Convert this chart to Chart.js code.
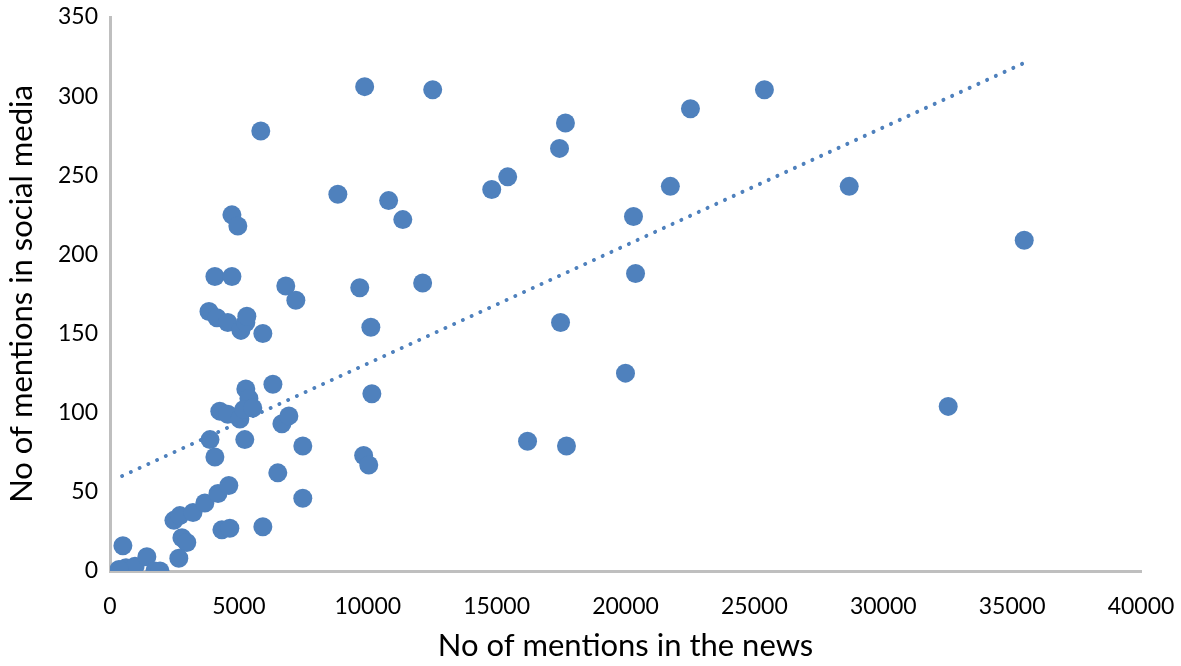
<!DOCTYPE html>
<html>
<head>
<meta charset="utf-8">
<script src="https://cdn.jsdelivr.net/npm/chart.js@4"></script>
<style>
  html, body { margin: 0; padding: 0; background: #fff; }
  #wrap { width: 1181px; height: 666px; }
</style>
</head>
<body>
<div id="wrap"><canvas id="scatterCanvas" width="1181" height="666"></canvas></div>
<script>
// mentions in the news (x) vs mentions in social media (y)
const newsMentions = [
  500, 470, 620, 780, 970, 350, 1430, 1740, 1940,
  2480, 2710, 2790, 2980, 2670, 3220, 3680, 4190, 4610, 4340, 4650, 5930,
  3880, 4070, 4260, 4570, 5040, 5230, 5270, 5390, 5190, 5540, 6320,
  6510, 6670, 6940, 7480, 7480,
  3840, 4150, 4570, 5080, 5270, 5310, 5930, 4070, 4730, 4730, 4960, 5850,
  6820, 7210, 8840, 9880, 9690, 10120, 9840, 10040, 10160, 10810, 11360,
  12130, 12520, 14810, 15430, 16200, 17440, 17670, 17480, 17710,
  20000, 20310, 20390, 21740, 22520, 25390, 28680, 32520, 35470
];
const socialMentions = [
  16, 0, 2, 1, 3, 1, 9, 0, 0,
  32, 35, 21, 18, 8, 37, 43, 49, 54, 26, 27, 28,
  83, 72, 101, 99, 96, 83, 115, 109, 102, 103, 118,
  62, 93, 98, 79, 46,
  164, 160, 157, 152, 157, 161, 150, 186, 186, 225, 218, 278,
  180, 171, 238, 306, 179, 154, 73, 67, 112, 234, 222,
  182, 304, 241, 249, 82, 267, 283, 157, 79,
  125, 224, 188, 243, 292, 304, 243, 104, 209
];

// dotted linear trend line, end points
const trendX = [470, 35470];
const trendY = [60, 321];

const xTicks = [0, 5000, 10000, 15000, 20000, 25000, 30000, 35000, 40000];
const yTicks = [0, 50, 100, 150, 200, 250, 300, 350];

const points = newsMentions.map((x, i) => ({ x: x, y: socialMentions[i] }));
const trend = trendX.map((x, i) => ({ x: x, y: trendY[i] }));

const blue = '#4F81BD';
const fontFamily = 'Lato, "Open Sans", sans-serif';

const config = {
  type: 'scatter',
  data: {
    datasets: [
      {
        label: 'Mentions',
        data: points,
        backgroundColor: blue,
        borderWidth: 0,
        pointRadius: 9.5,
        pointHoverRadius: 9.5,
        order: 2
      },
      {
        label: 'Trend',
        type: 'line',
        data: trend,
        borderColor: blue,
        borderWidth: 4,
        borderDash: [0.01, 9.6],
        borderCapStyle: 'round',
        pointRadius: 0,
        fill: false,
        order: 1
      }
    ]
  },
  options: {
    responsive: false,
    animation: false,
    layout: { padding: { top: 17, right: 40, left: 0, bottom: 0 } },
    plugins: {
      legend: { display: false },
      tooltip: { enabled: false }
    },
    scales: {
      x: {
        type: 'linear',
        min: 0,
        max: 40000,
        afterBuildTicks: (scale) => { scale.ticks = xTicks.map(v => ({ value: v })); },
        afterFit: (scale) => {
          scale.height = 95;
          scale.paddingLeft = 0;
          scale.paddingRight = 0;
        },
        grid: { display: false, drawTicks: false },
        border: { display: true, color: '#BFBFBF', width: 3 },
        ticks: {
          color: '#000',
          padding: 22,
          maxRotation: 0,
          callback: (v) => String(v),
          font: { family: fontFamily, size: 23 }
        },
        title: {
          display: true,
          text: 'No of mentions in the news',
          color: '#000',
          padding: { top: 4, bottom: 1 },
          font: { family: fontFamily, size: 31 }
        }
      },
      y: {
        type: 'linear',
        min: 0,
        max: 350,
        afterBuildTicks: (scale) => { scale.ticks = yTicks.map(v => ({ value: v })); },
        afterFit: (scale) => {
          scale.width = 110;
          scale.paddingTop = 0;
          scale.paddingBottom = 0;
        },
        grid: { display: false, drawTicks: false },
        border: { display: true, color: '#BFBFBF', width: 3 },
        ticks: {
          color: '#000',
          padding: 12,
          callback: (v) => String(v),
          font: { family: fontFamily, size: 23 }
        },
        title: {
          display: true,
          text: 'No of mentions in social media',
          color: '#000',
          padding: { top: 3, bottom: 3 },
          font: { family: fontFamily, size: 31 }
        }
      }
    }
  }
};

const canvas = document.getElementById('scatterCanvas');
if (canvas) {
  new Chart(canvas.getContext('2d'), config);
} else {
  console.error('no canvas');
}
</script>
</body>
</html>
